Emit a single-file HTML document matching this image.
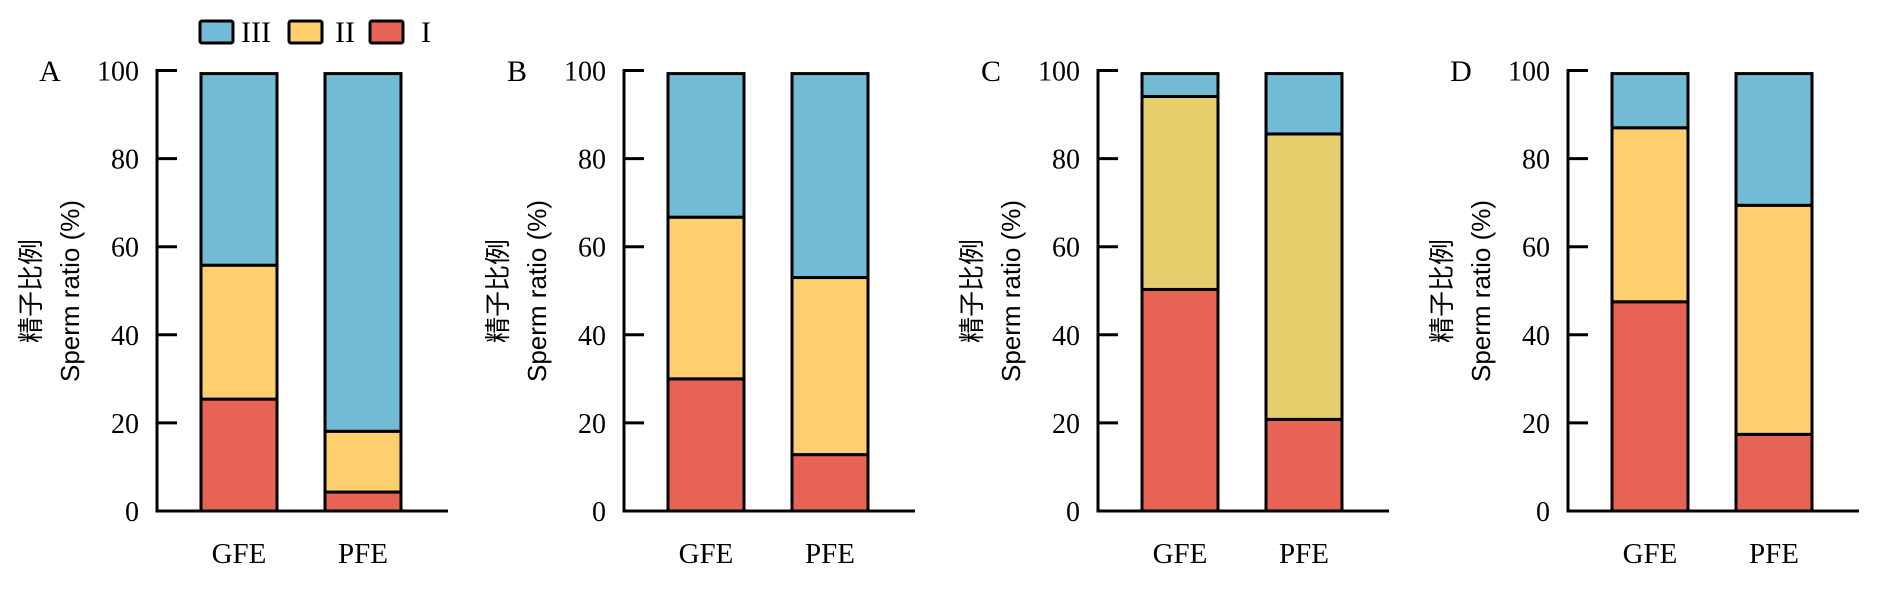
<!DOCTYPE html>
<html><head><meta charset="utf-8"><style>
html,body{margin:0;padding:0;background:#fff;}
svg{display:block;}
</style></head><body>
<svg id="chart" width="1878" height="593" viewBox="0 0 1878 593" xmlns="http://www.w3.org/2000/svg">
<g id="legend" font-family="Liberation Serif, serif" font-size="30">
  <g><rect x="200" y="21" width="33" height="22" fill="#72BBD5" stroke="#000" stroke-width="3" rx="2"/><text x="241" y="42">III</text></g>
  <g><rect x="289" y="21" width="33" height="22" fill="#FDCF6F" stroke="#000" stroke-width="3" rx="2"/><text x="335" y="42">II</text></g>
  <g><rect x="370" y="21" width="33" height="22" fill="#E66355" stroke="#000" stroke-width="3" rx="2"/><text x="421" y="42">I</text></g>
</g>
</svg>
<script>
const panels = ['A','B','C','D'];
const categories = ['GFE','PFE'];
const seriesI   = [[25.4, 4.3],[30.0,12.8],[50.3,20.8],[47.5,17.4]];
const seriesII  = [[30.4,13.8],[36.7,40.2],[43.8,64.8],[39.5,52.0]];
const seriesIII = [[43.5,81.2],[32.6,46.3],[5.2,13.7],[12.3,29.9]];
const yTicks = [0,20,40,60,80,100];
const axisXs = [157,624,1098,1568];
const NS='http://www.w3.org/2000/svg';
const svg=document.getElementById('chart');
const y0=511, pxPer=4.405;
function yScale(v){return y0 - v*pxPer;}
function mk(tag,attrs,parent){const e=document.createElementNS(NS,tag);for(const k in attrs)e.setAttribute(k,attrs[k]);parent.appendChild(e);return e;}
panels.forEach((p,pi)=>{
  const ax=axisXs[pi];
  const g=mk('g',{},svg);
  
  
  const lab=mk('text',{x:ax-107,y:81,'font-family':'Liberation Serif, serif','font-size':30,'text-anchor':'middle'},g);
  lab.textContent=p;
  
  
  const yl=mk('text',{transform:`translate(${ax-117},291) rotate(-90)`,'font-family':'Liberation Sans, Noto Sans CJK SC, sans-serif','font-size':26,'text-anchor':'middle'},g);
  yl.textContent='精子比例';
  
  
  const yl2=mk('text',{transform:`translate(${ax-78},291) rotate(-90)`,'font-family':'Liberation Sans, sans-serif','font-size':26,'text-anchor':'middle'},g);
  yl2.textContent='Sperm ratio (%)';
  
  
  const yColors=['#E66355', pi===2?'#E8CF6E':'#FDCF6F', '#72BBD5'];
  categories.forEach((c,ci)=>{
    const bx=ax+44+ci*124, bw=76;
    const vals=[seriesI[pi][ci],seriesII[pi][ci],seriesIII[pi][ci]];
    const names=['i','ii','iii'];
    let cum=0;
    vals.forEach((v,si)=>{
      const r=mk('rect',{x:bx,y:yScale(cum+v),width:bw,height:v*pxPer,fill:yColors[si],stroke:'#000','stroke-width':3},g);
      
      
      cum+=v;
    });
    const xl=mk('text',{x:bx+bw/2,y:563,'font-family':'Liberation Serif, serif','font-size':29,'text-anchor':'middle'},g);
    xl.textContent=c;
    
    
  });
  const yaxis=mk('line',{x1:ax,y1:yScale(100)-1.5,x2:ax,y2:y0+1.5,stroke:'#000','stroke-width':3},g);
  
  
  const xaxis=mk('line',{x1:ax-1.5,y1:y0,x2:ax+291,y2:y0,stroke:'#000','stroke-width':3},g);
  
  
  yTicks.forEach(t=>{
    const tk=mk('line',{x1:ax,y1:yScale(t),x2:ax+20,y2:yScale(t),stroke:'#000','stroke-width':3},g);
    
    
    const tl=mk('text',{x:ax-18,y:yScale(t)+10,'font-family':'Liberation Serif, serif','font-size':28,'text-anchor':'end'},g);
    tl.textContent=t;
    
    
  });
});
</script>
</body></html>
